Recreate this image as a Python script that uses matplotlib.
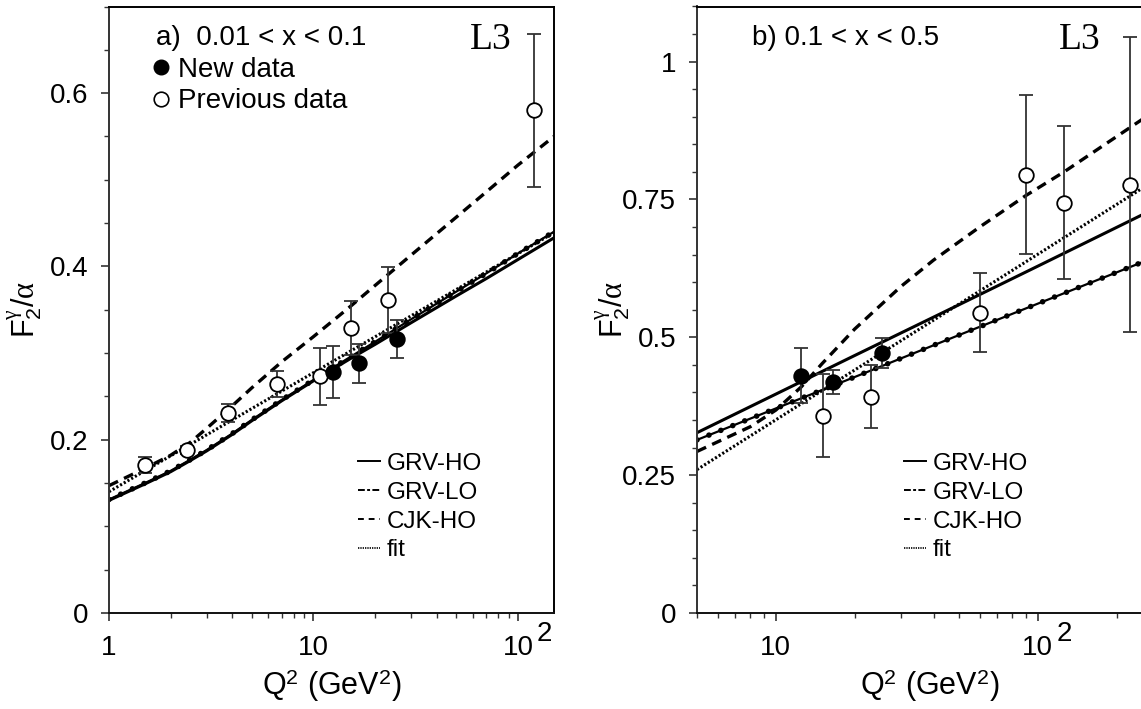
import matplotlib
matplotlib.use('Agg')
import matplotlib.pyplot as plt
from matplotlib.lines import Line2D
from matplotlib.ticker import FixedLocator, MultipleLocator, FuncFormatter, LogLocator, NullFormatter

plt.rcParams['font.family'] = ['Liberation Sans', 'DejaVu Sans']
plt.rcParams['mathtext.fontset'] = 'custom'
plt.rcParams['mathtext.rm'] = 'Liberation Serif'
plt.rcParams['mathtext.sf'] = 'Liberation Sans'
plt.rcParams['mathtext.it'] = 'Liberation Serif:italic'

# ---- panel a) 0.01 < x < 0.1 ----
new_q2_a = [12.4, 16.6, 25.6]
new_f2_a = [0.278, 0.288, 0.316]
new_err_a = [0.030, 0.022, 0.022]

prev_q2_a = [1.5, 2.4, 3.8, 6.6, 10.7, 15.3, 23.2, 120]
prev_f2_a = [0.171, 0.188, 0.231, 0.264, 0.273, 0.329, 0.361, 0.580]
prev_err_a = [0.009, 0.005, 0.010, 0.015, 0.033, 0.031, 0.038, 0.088]

curve_q2_a = [1, 1.5, 2, 2.5, 3, 4, 5, 7, 10, 15, 20, 30, 50, 70, 100, 150]
grv_ho_a = [0.130, 0.149, 0.163, 0.176, 0.187, 0.206, 0.222, 0.245, 0.268, 0.293, 0.310, 0.335, 0.366, 0.386, 0.408, 0.433]
grv_lo_a = [0.131, 0.150, 0.164, 0.177, 0.188, 0.207, 0.223, 0.246, 0.269, 0.295, 0.313, 0.339, 0.371, 0.392, 0.415, 0.440]
cjk_ho_a = [0.147, 0.167, 0.182, 0.197, 0.213, 0.239, 0.260, 0.290, 0.319, 0.353, 0.378, 0.413, 0.457, 0.486, 0.517, 0.550]
fit_q2_a = [1, 150]
fit_a = [0.140, 0.439]

# ---- panel b) 0.1 < x < 0.5 ----
new_q2_b = [12.5, 16.6, 25.4]
new_f2_b = [0.430, 0.419, 0.472]
new_err_b = [0.050, 0.022, 0.027]

prev_q2_b = [15.2, 23.0, 60.1, 89.9, 126, 226]
prev_f2_b = [0.358, 0.392, 0.545, 0.795, 0.744, 0.777]
prev_err_b = [0.075, 0.057, 0.072, 0.144, 0.139, 0.267]

curve_q2_b = [5, 10, 20, 50, 100, 250]
grv_ho_b = [0.327, 0.397, 0.467, 0.559, 0.629, 0.722]
grv_lo_b = [0.314, 0.371, 0.428, 0.504, 0.561, 0.636]
cjk_q2_b = [5, 8, 10, 12.5, 15, 20, 30, 40, 60, 90, 126, 250]
cjk_ho_b = [0.293, 0.338, 0.368, 0.410, 0.452, 0.515, 0.592, 0.640, 0.700, 0.757, 0.800, 0.895]
fit_q2_b = [5, 250]
fit_b = [0.260, 0.770]

model_labels = ['GRV-HO', 'GRV-LO', 'CJK-HO', 'fit']


def draw_curves(ax, q_ho, ho, q_lo, lo, q_cjk, cjk, q_fit, fit):
    ax.plot(q_ho, ho, color='black', lw=2.2, solid_capstyle='butt', zorder=2)
    ax.plot(q_lo, lo, color='black', lw=1.6, zorder=2)
    ax.plot(q_lo, lo, color='black', lw=4.0, ls=(0, (0.01, 2.3)),
            dash_capstyle='round', zorder=2)
    ax.plot(q_cjk, cjk, color='black', lw=2.4, ls=(0, (3, 2)), zorder=2)
    ax.plot(q_fit, fit, color='black', lw=2.2, ls=(0, (0.7, 0.7)), zorder=2)


def draw_points(ax, qn, fn, en, qp, fp, ep):
    ax.errorbar(qp, fp, yerr=ep, fmt='o', ms=10.5, mfc='white', mec='black', mew=1.3,
                ecolor='#333333', elinewidth=1.3, capsize=5, capthick=1.3, zorder=3)
    ax.errorbar(qn, fn, yerr=en, fmt='o', ms=10.5, mfc='black', mec='black', mew=1.3,
                ecolor='#333333', elinewidth=1.3, capsize=5, capthick=1.3, zorder=4)


def style(ax, xlim, ylim, xmajor, ymajor):
    ax.set_xscale('log')
    ax.set_xlim(*xlim)
    ax.set_ylim(*ylim)
    ax.xaxis.set_major_locator(FixedLocator(xmajor))
    ax.xaxis.set_minor_locator(LogLocator(base=10, subs=range(2, 10)))
    ax.xaxis.set_minor_formatter(NullFormatter())
    ax.xaxis.set_major_formatter(FuncFormatter(lambda v, p: '1' if v < 5 else '10'))
    ax.yaxis.set_major_locator(MultipleLocator(ymajor))
    ax.yaxis.set_minor_locator(MultipleLocator(0.05))
    ax.yaxis.set_major_formatter(FuncFormatter(lambda v, p: '%g' % round(v, 3)))
    ax.tick_params(which='major', direction='out', length=6, width=1.2, labelsize=20,
                   top=False, right=False, color='#333333')
    ax.tick_params(axis='x', which='major', pad=10)
    ax.tick_params(axis='y', which='major', pad=9)
    ax.tick_params(which='minor', direction='out', length=3.6, width=1.0,
                   top=False, right=False, color='#333333')
    for s in ax.spines.values():
        s.set_linewidth(1.4)
    ax.spines['left'].set_color('#333333')
    ax.spines['bottom'].set_color('#111111')
    ax.set_xlabel(r'Q$^{\mathsf{2}}$ (GeV$^{\mathsf{2}}$)', fontsize=22, labelpad=4)
    ax.set_ylabel(r'F$_{\mathsf{2}}^{\mathrm{\gamma}}$/$\mathrm{\alpha}$', fontsize=22)
    ax.yaxis.set_label_coords(-0.145 * 445 / (ax.get_position().width * 1141), 0.5)
    # "10" tick label gets its exponent drawn beside it
    ax.annotate('2', xy=(100, 0), xycoords=('data', 'axes fraction'), xytext=(13.5, -6),
                textcoords='offset points', ha='left', va='top', fontsize=20)


def model_legend(ax, x0, y0):
    handles = [
        Line2D([], [], color='black', lw=1.4),
        Line2D([], [], color='black', lw=1.4, ls=(0, (3.5, 1.2, 1.5, 1.2))),
        Line2D([], [], color='black', lw=1.4, ls=(0, (3, 2.5))),
        Line2D([], [], color='black', lw=1.2, ls=(0, (0.8, 0.6))),
    ]
    leg = ax.legend(handles, model_labels, loc='upper left', bbox_to_anchor=(x0, y0),
                    frameon=False, fontsize=17.5, handlelength=0.9, handletextpad=0.28,
                    labelspacing=0.28, borderpad=0, borderaxespad=0)
    return leg


fig = plt.figure(figsize=(11.41, 7.09), dpi=100)
ax1 = fig.add_axes([109 / 1141, 96 / 709, 445 / 1141, 606.5 / 709])
ax2 = fig.add_axes([697 / 1141, 96 / 709, 465.7 / 1141, 606.5 / 709])

# panel a
draw_curves(ax1, curve_q2_a, grv_ho_a, curve_q2_a, grv_lo_a, curve_q2_a, cjk_ho_a, fit_q2_a, fit_a)
draw_points(ax1, new_q2_a, new_f2_a, new_err_a, prev_q2_a, prev_f2_a, prev_err_a)
style(ax1, (1, 150), (0, 0.7), [1, 10, 100], 0.2)
leg1 = model_legend(ax1, 0.56, 0.264)
ax1.add_artist(leg1)
data_handles = [
    Line2D([], [], ls='none', marker='o', ms=10.5, mfc='black', mec='black'),
    Line2D([], [], ls='none', marker='o', ms=10.5, mfc='white', mec='black', mew=1.2),
]
ax1.legend(data_handles, ['New data', 'Previous data'], loc='upper left',
           bbox_to_anchor=(0.092, 0.917), frameon=False, fontsize=20, handlelength=0.8,
           handletextpad=0.22, labelspacing=0.2, borderpad=0, borderaxespad=0)
ax1.text(0.1056, 0.948, 'a)  0.01 < x < 0.1', transform=ax1.transAxes, fontsize=20,
         ha='left', va='center')
ax1.text(0.812, 0.945, 'L3', transform=ax1.transAxes, fontsize=27, ha='left', va='center',
         family='Liberation Serif')

# panel b
draw_curves(ax2, curve_q2_b, grv_ho_b, curve_q2_b, grv_lo_b, cjk_q2_b, cjk_ho_b, fit_q2_b, fit_b)
draw_points(ax2, new_q2_b, new_f2_b, new_err_b, prev_q2_b, prev_f2_b, prev_err_b)
style(ax2, (5, 300), (0, 1.1), [10, 100], 0.25)
ax2.spines['right'].set_visible(False)
model_legend(ax2, 0.4445, 0.264)
ax2.text(0.118, 0.948, 'b) 0.1 < x < 0.5', transform=ax2.transAxes, fontsize=20,
         ha='left', va='center')
ax2.text(0.777, 0.945, 'L3', transform=ax2.transAxes, fontsize=27, ha='left', va='center',
         family='Liberation Serif')

fig.savefig('out.png', dpi=100)
